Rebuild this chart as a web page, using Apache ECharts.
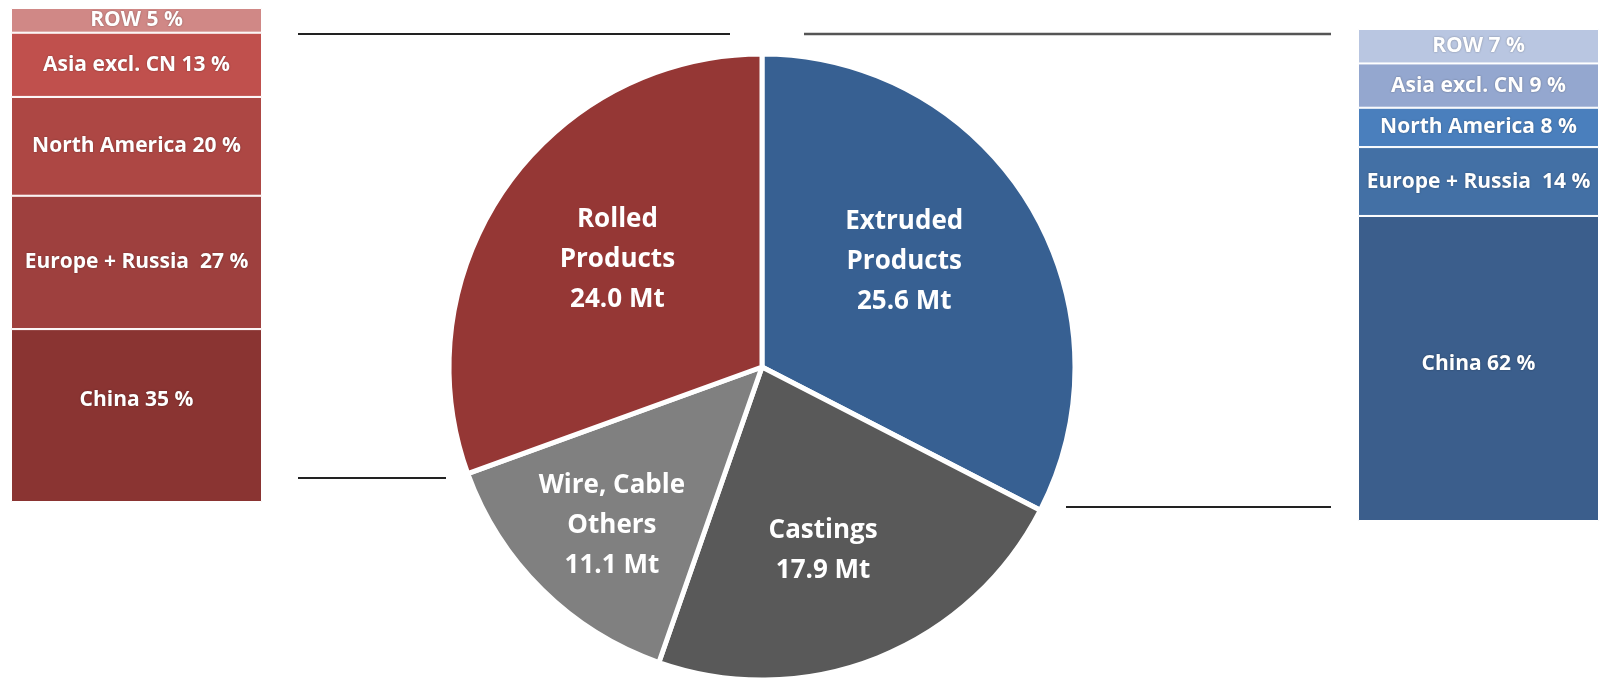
<!DOCTYPE html>
<html>
<head>
<meta charset="utf-8">
<script src="https://cdn.jsdelivr.net/npm/echarts@6/dist/echarts.min.js"></script>
<style>
  html, body { margin: 0; padding: 0; background: #fff; }
  #main { width: 1599px; height: 679px; }
</style>
</head>
<body>
<div id="main"></div>
<script>
// pie: aluminium semi-finished products (Mt)
var products = ['Extruded\nProducts', 'Castings', 'Wire, Cable\nOthers', 'Rolled\nProducts'];
var productMt = [25.6, 17.9, 11.1, 24.0];

// regional split, stacked bottom to top
var regions = ['China', 'Europe + Russia ', 'North America', 'Asia excl. CN', 'ROW'];
var rolledShare = [35, 27, 20, 13, 5];
var extrudedShare = [62, 14, 8, 9, 7];

var pieColors = ['#376092', '#595959', '#808080', '#953735'];
var redShades = ['#8a3432', '#9e403e', '#ad4744', '#c0504d', '#d08886'];
var blueShades = ['#3b5e8c', '#4370a5', '#4a7fbd', '#94a7cf', '#b9c6e1'];
var labelOffsets = [[6, -22], [2, 35], [-38, 45], [-14, -16]];

var dom = document.getElementById('main');
var myChart = echarts.init(dom);
var font = '"Open Sans", Lato, sans-serif';

function stackSeries(values, colors, gridIdx, chinaShift) {
    return regions.map(function (r, i) {
        return {
            name: r,
            type: 'bar',
            stack: 'g' + gridIdx,
            xAxisIndex: gridIdx,
            yAxisIndex: gridIdx,
            barWidth: '100%',
            data: [values[i]],
            itemStyle: { color: colors[i], borderColor: '#fff', borderWidth: 1 },
            label: {
                show: true,
                position: 'inside',
                offset: [0, i === 0 ? chinaShift : 0],
                formatter: function (p) { return p.seriesName + ' ' + p.value + ' %'; },
                color: '#fff',
                fontFamily: font,
                fontWeight: 'bold',
                fontSize: 21,
                textShadowColor: 'rgba(0,0,0,0.35)',
                textShadowBlur: 2
            }
        };
    });
}

var option = {
    backgroundColor: '#fff',
    animation: false,
    grid: [
        { left: 11, top: 8, width: 251, height: 494 },
        { left: 1358, top: 29, width: 252, height: 492 }
    ],
    xAxis: [
        { type: 'category', gridIndex: 0, data: ['Rolled'], show: false },
        { type: 'category', gridIndex: 1, data: ['Extruded'], show: false }
    ],
    yAxis: [
        { type: 'value', gridIndex: 0, min: 0, max: 100, show: false },
        { type: 'value', gridIndex: 1, min: 0, max: 100, show: false }
    ],
    graphic: [
        { type: 'line', shape: { x1: 298, y1: 34, x2: 730, y2: 34 }, style: { stroke: '#222', lineWidth: 2 } },
        { type: 'line', shape: { x1: 804, y1: 34, x2: 1331, y2: 34 }, style: { stroke: '#555', lineWidth: 2.5 } },
        { type: 'line', shape: { x1: 298, y1: 478, x2: 446, y2: 478 }, style: { stroke: '#222', lineWidth: 2 } },
        { type: 'line', shape: { x1: 1066, y1: 507, x2: 1331, y2: 507 }, style: { stroke: '#222', lineWidth: 2 } }
    ],
    series: [
        {
            name: 'Products',
            type: 'pie',
            center: [762, 367],
            radius: [0, 313],
            startAngle: 90,
            clockwise: true,
            avoidLabelOverlap: false,
            itemStyle: { borderColor: '#fff', borderWidth: 5 },
            label: {
                show: true,
                position: 'inside',
                formatter: function (p) { return p.name + '\n' + p.value.toFixed(1) + ' Mt'; },
                color: '#fff',
                fontFamily: font,
                fontWeight: 'bold',
                fontSize: 26,
                lineHeight: 40,
                align: 'center'
            },
            labelLine: { show: false },
            data: products.map(function (n, i) {
                return {
                    name: n,
                    value: productMt[i],
                    itemStyle: { color: pieColors[i] },
                    label: { offset: labelOffsets[i] }
                };
            })
        }
    ].concat(stackSeries(rolledShare, redShades, 0, -16), stackSeries(extrudedShare, blueShades, 1, -4))
};

if (option && typeof option === "object") {
    myChart.setOption(option, true);
}
</script>
</body>
</html>
